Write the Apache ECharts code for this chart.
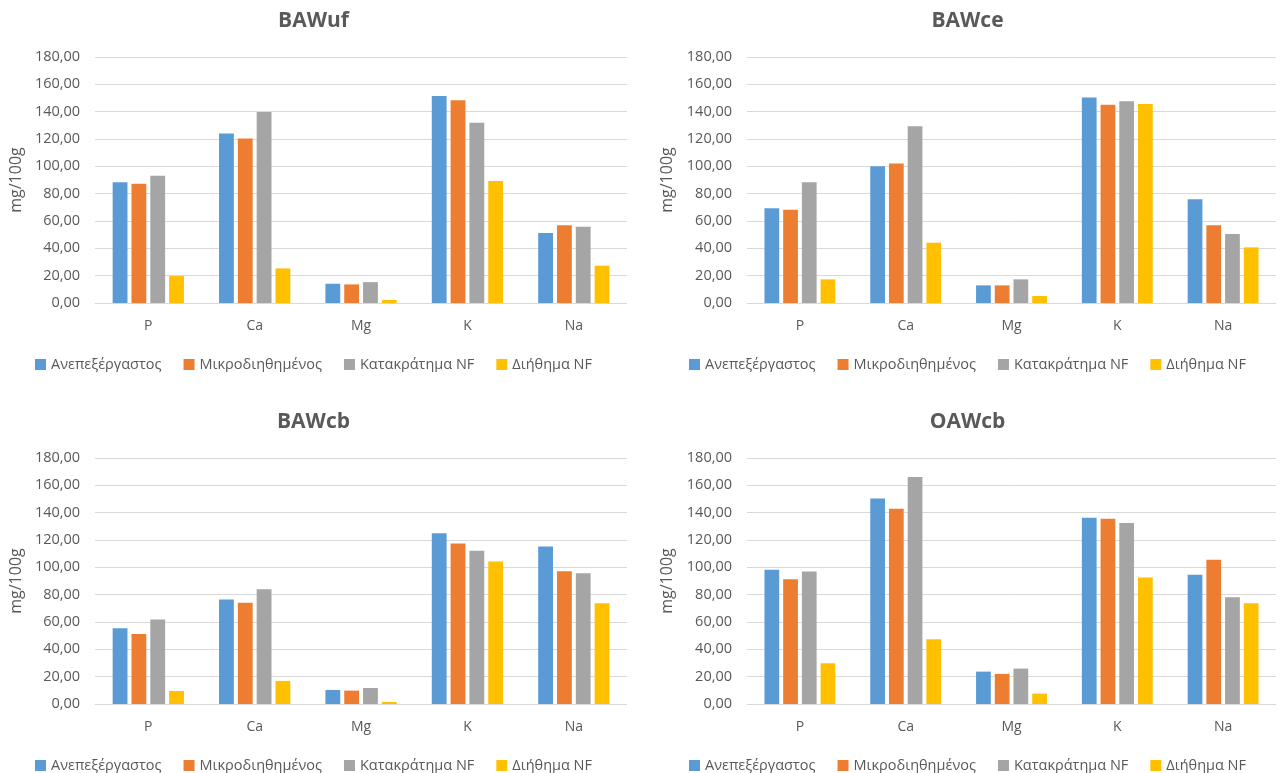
<!DOCTYPE html>
<html>
<head>
<meta charset="utf-8">
<script src="https://cdn.jsdelivr.net/npm/echarts@6/dist/echarts.min.js"></script>
<style>
  html, body { margin: 0; padding: 0; background: #ffffff; overflow: hidden; }
  body { width: 1285px; height: 773px; position: relative; }
  .panel { position: absolute; height: 372px; }
</style>
</head>
<body>
<div id="p1" class="panel" style="left:0px; top:0px; width:627px;"></div>
<div id="p2" class="panel" style="left:650px; top:0px; width:635px;"></div>
<div id="p3" class="panel" style="left:0px; top:401px; width:627px;"></div>
<div id="p4" class="panel" style="left:650px; top:401px; width:635px;"></div>
<script>
// Minerals measured in each stream (mg/100g)
const categories = ['P', 'Ca', 'Mg', 'K', 'Na'];
const seriesNames = ['Ανεπεξέργαστος', 'Μικροδιηθημένος', 'Κατακράτημα NF', 'Διήθημα NF'];
const seriesColors = ['#5B9BD5', '#ED7D31', '#A5A5A5', '#FFC000'];

// BAWuf
const bawufRaw       = [88.4, 124.0, 14.1, 151.5, 51.2];
const bawufMicro     = [87.2, 120.3, 13.6, 148.3, 56.8];
const bawufRetentate = [93.1, 139.8, 15.3, 131.8, 55.8];
const bawufPermeate  = [19.7, 25.3, 2.2, 89.2, 27.3];

// BAWce
const bawceRaw       = [69.4, 100.1, 12.9, 150.3, 76.0];
const bawceMicro     = [68.2, 102.1, 12.9, 145.0, 56.8];
const bawceRetentate = [88.4, 129.4, 17.3, 147.6, 50.4];
const bawcePermeate  = [17.3, 44.1, 5.1, 145.7, 40.7];

// BAWcb
const bawcbRaw       = [55.4, 76.4, 10.3, 125.0, 115.3];
const bawcbMicro     = [51.3, 74.0, 9.8, 117.5, 97.2];
const bawcbRetentate = [61.8, 84.0, 11.7, 112.1, 95.7];
const bawcbPermeate  = [9.5, 16.9, 1.5, 104.3, 73.7];

// OAWcb
const oawcbRaw       = [98.2, 150.4, 23.7, 136.3, 94.5];
const oawcbMicro     = [91.3, 142.9, 22.0, 135.5, 105.5];
const oawcbRetentate = [96.9, 166.1, 25.9, 132.4, 78.1];
const oawcbPermeate  = [29.8, 47.4, 7.6, 92.6, 73.7];

// Value axis range
const yMin = 0;
const yMax = 180;
const yStep = 20;
const yAxisName = 'mg/100g';

const TEXT = '#595959';
const GRID_LINE = '#D9D9D9';
const FONT = '"Open Sans", "Noto Sans", sans-serif';

function fmt(v) {
  return v.toFixed(2).replace('.', ',');
}

function buildOption(title, rows, gridLeft, gridRight) {
  return {
    animation: false,
    textStyle: { fontFamily: FONT },
    title: {
      text: title,
      left: 'center',
      top: 6,
      textStyle: { fontFamily: FONT, fontSize: 21, fontWeight: 'bold', color: TEXT }
    },
    legend: {
      data: seriesNames,
      left: 'center',
      top: 352,
      icon: 'rect',
      itemWidth: 11,
      itemHeight: 11,
      itemGap: 22,
      textStyle: { fontFamily: FONT, fontSize: 14.5, color: TEXT }
    },
    grid: { left: gridLeft, right: gridRight, top: 57, height: 246, containLabel: false },
    xAxis: {
      type: 'category',
      data: categories,
      axisLine: { show: true, lineStyle: { color: GRID_LINE, width: 1 } },
      axisTick: { show: false },
      axisLabel: { color: TEXT, fontSize: 14, margin: 16, fontFamily: FONT }
    },
    yAxis: {
      type: 'value',
      min: yMin,
      max: yMax,
      interval: yStep,
      name: yAxisName,
      nameLocation: 'middle',
      nameGap: 68,
      nameTextStyle: { color: TEXT, fontSize: 16, fontFamily: FONT },
      axisLine: { show: false },
      axisTick: { show: false },
      splitLine: { lineStyle: { color: GRID_LINE, width: 1 } },
      axisLabel: { color: TEXT, fontSize: 14.5, margin: 15, fontFamily: FONT, formatter: fmt }
    },
    series: rows.map(function (vals, i) {
      return {
        name: seriesNames[i],
        type: 'bar',
        data: vals,
        barGap: '27%',
        barCategoryGap: '33%',
        itemStyle: { color: seriesColors[i] }
      };
    })
  };
}

const panels = [
  { id: 'p1', title: 'BAWuf', rows: [bawufRaw, bawufMicro, bawufRetentate, bawufPermeate], left: 93, right: 0 },
  { id: 'p2', title: 'BAWce', rows: [bawceRaw, bawceMicro, bawceRetentate, bawcePermeate], left: 97, right: 9 },
  { id: 'p3', title: 'BAWcb', rows: [bawcbRaw, bawcbMicro, bawcbRetentate, bawcbPermeate], left: 93, right: 0 },
  { id: 'p4', title: 'OAWcb', rows: [oawcbRaw, oawcbMicro, oawcbRetentate, oawcbPermeate], left: 97, right: 9 }
];

panels.forEach(function (p) {
  const chart = echarts.init(document.getElementById(p.id), null, { renderer: 'canvas' });
  chart.setOption(buildOption(p.title, p.rows, p.left, p.right));
});
</script>
</body>
</html>
